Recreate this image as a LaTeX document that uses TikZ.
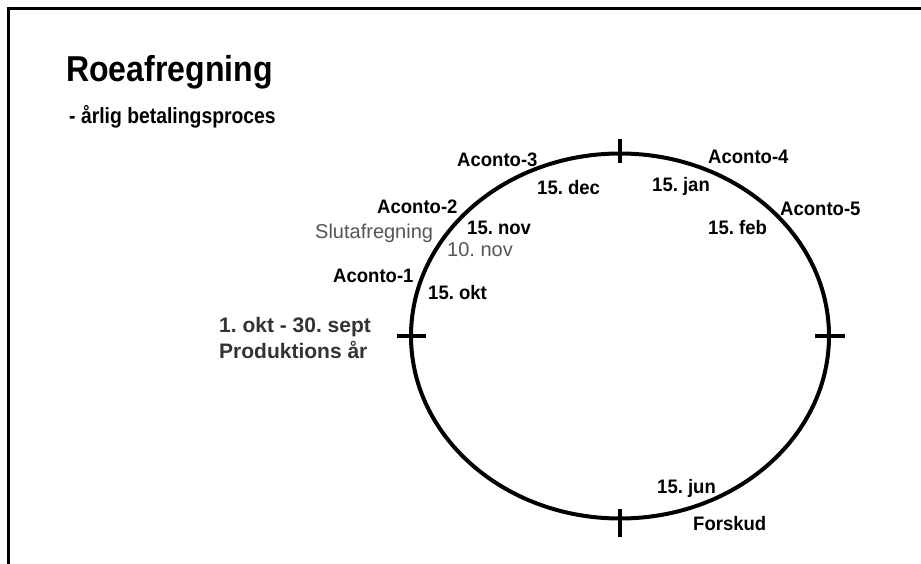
\documentclass[tikz,border=0pt]{standalone}
\usepackage{fontspec}
\setmainfont{Liberation Sans}
\newfontfamily\condA[FakeStretch=0.89]{Liberation Sans}
\newfontfamily\condB[FakeStretch=0.88]{Liberation Sans}
\newfontfamily\condC[FakeStretch=0.95]{Liberation Sans}
\usetikzlibrary{shapes.geometric}
\definecolor{soft}{HTML}{555555}
\definecolor{darkish}{HTML}{333333}
\tikzset{
  lbl/.style={anchor=base west, inner sep=0pt, font=\condC\fontsize{19.5}{22}\selectfont\bfseries},
  glbl/.style={anchor=base west, inner sep=0pt, text=soft, font=\fontsize{20}{22}\selectfont},
  side/.style={anchor=base west, inner sep=0pt, text=darkish, font=\fontsize{21}{23}\selectfont\bfseries},
  tick/.style={line width=3.5pt},
  frame/.style={line width=3pt}
}
\begin{document}
\frenchspacing
\begin{tikzpicture}[x=1pt,y=-1pt]
\useasboundingbox (0,0) rectangle (921,564);
\fill[white] (0,0) rectangle (921,564);
\coordinate (fbl) at (8,566);
\coordinate (ftl) at (8,9);
\coordinate (ftr) at (923,9);
\draw[frame] (fbl) -- (ftl) -- (ftr);
\node[anchor=base west, inner sep=0pt, font=\condA\fontsize{36}{40}\selectfont\bfseries] (title) at (66,82) {Roeafregning};
\node[anchor=base west, inner sep=0pt, font=\condB\fontsize{22}{24}\selectfont\bfseries] (sub) at (69,124) {- årlig betalingsproces};
\node[draw, ellipse, line width=4pt, minimum width=418pt, minimum height=365pt, inner sep=0pt] (cyc) at (620,336) {};
\draw[tick] ([yshift=12pt]cyc.north) -- ([yshift=-12pt]cyc.north);
\draw[tick] ([yshift=12pt]cyc.south) -- ([yshift=-16pt]cyc.south);
\draw[tick] ([xshift=-12pt]cyc.west) -- ([xshift=17pt]cyc.west);
\draw[tick] ([xshift=-16pt]cyc.east) -- ([xshift=14pt]cyc.east);
\node[lbl] (a3) at (457,167) {Aconto-3};
\node[lbl] (d15) at (537,195) {15. dec};
\node[lbl] (a2) at (377,214) {Aconto-2};
\node[glbl] (slut) at (315,239) {Slutafregning};
\node[lbl] (n15) at (467,235) {15. nov};
\node[glbl] (n10) at (447,256) {10. nov};
\node[lbl] (a1) at (333,282) {Aconto-1};
\node[lbl] (o15) at (428,299) {15. okt};
\node[lbl] (a4) at (708,164) {Aconto-4};
\node[lbl] (j15) at (652,192) {15. jan};
\node[lbl] (a5) at (780,215) {Aconto-5};
\node[lbl] (f15) at (708,235) {15. feb};
\node[lbl] (jun) at (657,493) {15. jun};
\node[lbl] (fsk) at (693,530) {Forskud};
\node[side] (per) at (219,332) {1. okt - 30. sept};
\node[side] (prod) at (219,358) {Produktions år};
\end{tikzpicture}
\end{document}
